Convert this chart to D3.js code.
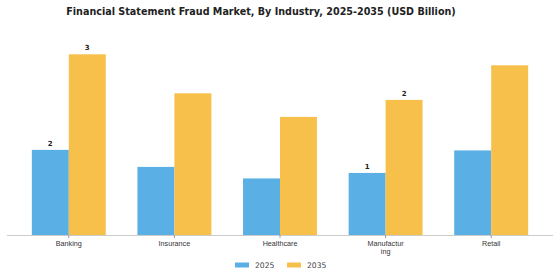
<!DOCTYPE html>
<html>
<head>
<meta charset="utf-8">
<script src="https://cdn.jsdelivr.net/npm/d3@7.9.0/dist/d3.min.js"></script>
<style>
  body { margin: 0; background: #fff; }
  svg { display: block; font-family: "DejaVu Sans", sans-serif; }
</style>
</head>
<body>
<svg id="chart" width="560" height="280"></svg>
<script>
const industries = ['Banking', 'Insurance', 'Healthcare', 'Manufacturing', 'Retail'];
const years = ['2025', '2035'];
const values2025 = [1.55, 1.24, 1.03, 1.13, 1.54];
const values2035 = [3.29, 2.58, 2.15, 2.46, 3.09];
// which bars carry a value label
const labelled2025 = ['Banking', 'Manufacturing'];
const labelled2035 = ['Banking', 'Manufacturing'];

const colors = d3.scaleOrdinal().domain(years).range(['#5aafe4', '#f7c04b']);

const svg = d3.select('#chart');
const baseY = 235;

const x = d3.scaleBand().domain(industries).range([16, 544]).paddingInner(0.3).paddingOuter(0.15);
const xSub = d3.scaleBand().domain(years).range([0, x.bandwidth()]);
const y = d3.scaleLinear().domain([0, 3.29]).range([baseY, 54.3]);

const fmt = d3.format('.0f');

svg.append('text')
  .attr('x', 261)
  .attr('y', 15)
  .attr('text-anchor', 'middle')
  .attr('font-size', 9.6)
  .attr('font-weight', 'bold')
  .attr('fill', '#222')
  .text('Financial Statement Fraud Market, By Industry, 2025-2035 (USD Billion)');

const rows = industries.map((name, i) => ({
  name,
  bars: [
    { year: '2025', value: values2025[i], label: labelled2025.includes(name) },
    { year: '2035', value: values2035[i], label: labelled2035.includes(name) },
  ],
}));

const groups = svg.append('g')
  .selectAll('g')
  .data(rows)
  .join('g')
  .attr('transform', (d) => `translate(${x(d.name)},0)`);

groups.selectAll('rect')
  .data((d) => d.bars)
  .join('rect')
  .attr('x', (d) => xSub(d.year))
  .attr('y', (d) => y(d.value))
  .attr('width', xSub.bandwidth())
  .attr('height', (d) => baseY - y(d.value))
  .attr('fill', (d) => colors(d.year));

groups.selectAll('text.val')
  .data((d) => d.bars.filter((b) => b.label))
  .join('text')
  .attr('class', 'val')
  .attr('x', (d) => xSub(d.year) + xSub.bandwidth() / 2)
  .attr('y', (d) => y(d.value) - 4)
  .attr('text-anchor', 'middle')
  .attr('font-size', 7)
  .attr('font-weight', 'bold')
  .attr('fill', '#222')
  .text((d) => fmt(d.value));

// x axis
const axis = svg.append('g')
  .attr('transform', `translate(0,${baseY})`)
  .call(d3.axisBottom(x).tickSize(3).tickSizeOuter(0));
axis.select('.domain').attr('d', 'M7,0.5H553').attr('stroke', '#ccc');
axis.selectAll('.tick line').attr('stroke', '#999');
axis.selectAll('.tick text').remove();

axis.selectAll('.tick')
  .append('text')
  .attr('fill', '#333')
  .attr('font-size', 7.2)
  .attr('text-anchor', 'middle')
  .selectAll('tspan')
  .data((d) => (d === 'Manufacturing' ? ['Manufactur', 'ing'] : [d]))
  .join('tspan')
  .attr('x', 0)
  .attr('y', (d, i) => 10.5 + i * 8.5)
  .text((d) => d);

// legend
const legend = svg.append('g');
const legendX = [235, 287];
years.forEach((yr, i) => {
  legend.append('rect')
    .attr('x', legendX[i])
    .attr('y', 262.5)
    .attr('width', 14)
    .attr('height', 5)
    .attr('fill', colors(yr));
  legend.append('text')
    .attr('x', legendX[i] + 20)
    .attr('y', 268)
    .attr('font-size', 7.6)
    .attr('fill', '#444')
    .text(yr);
});
</script>
</body>
</html>
